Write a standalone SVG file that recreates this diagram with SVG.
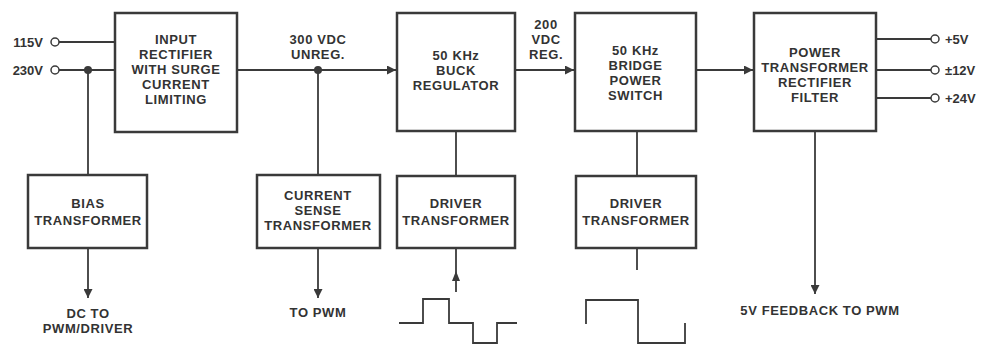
<svg xmlns="http://www.w3.org/2000/svg" width="981" height="345" viewBox="0 0 981 345">
<defs>
<marker id="ah" viewBox="0 0 10 10" refX="10" refY="5" markerWidth="10" markerHeight="9" markerUnits="userSpaceOnUse" orient="auto">
<path d="M0,0 L10,5 L0,10 z" fill="#3a3a3a"/>
</marker>
</defs>
<style>
.box{fill:none;stroke:#3a3a3a;stroke-width:2.5}
.ln{fill:none;stroke:#3a3a3a;stroke-width:1.8}
.t{font-family:"Liberation Sans",Arial,sans-serif;font-weight:bold;font-size:13px;letter-spacing:0.6px;fill:#333;text-anchor:middle}
.l{font-family:"Liberation Sans",Arial,sans-serif;font-weight:bold;font-size:13px;fill:#333}
.term{fill:#fff;stroke:#3a3a3a;stroke-width:1.5}
.dot{fill:#3a3a3a}
</style>
<rect width="981" height="345" fill="#fff"/>

<g id="connectors">
<line class="ln" x1="59" y1="42" x2="115" y2="42"/>
<line class="ln" x1="59" y1="70" x2="115" y2="70"/>
<line class="ln" x1="88" y1="70" x2="88" y2="176"/>
<line class="ln" x1="237" y1="70" x2="396" y2="70" marker-end="url(#ah)"/>
<line class="ln" x1="318" y1="70" x2="318" y2="176"/>
<line class="ln" x1="515" y1="70" x2="574" y2="70" marker-end="url(#ah)"/>
<line class="ln" x1="696" y1="70" x2="753" y2="70" marker-end="url(#ah)"/>
<line class="ln" x1="876" y1="39" x2="931" y2="39"/>
<line class="ln" x1="876" y1="70" x2="931" y2="70"/>
<line class="ln" x1="876" y1="98" x2="931" y2="98"/>
<line class="ln" x1="815" y1="131" x2="815" y2="294" marker-end="url(#ah)"/>
<line class="ln" x1="88" y1="248" x2="88" y2="298" marker-end="url(#ah)"/>
<line class="ln" x1="318" y1="248" x2="318" y2="298" marker-end="url(#ah)"/>
<line class="ln" x1="456" y1="131" x2="456" y2="176"/>
<line class="ln" x1="637" y1="131" x2="637" y2="176"/>
<line class="ln" x1="456" y1="292" x2="456" y2="248"/>
<path d="M456,271 L452,281 L460,281 z" fill="#3a3a3a"/>
<line class="ln" x1="637" y1="248" x2="637" y2="270"/>
<circle class="dot" cx="88" cy="70" r="4"/>
<circle class="dot" cx="318" cy="70" r="4"/>
<circle class="term" cx="55" cy="42" r="4"/>
<circle class="term" cx="55" cy="70" r="4"/>
<circle class="term" cx="935" cy="39" r="4"/>
<circle class="term" cx="935" cy="70" r="4"/>
<circle class="term" cx="935" cy="98" r="4"/>
</g>

<g id="labels">
<text class="l" x="43" y="47" text-anchor="end">115V</text>
<text class="l" x="43" y="75" text-anchor="end">230V</text>
<text class="t" x="318" y="44">300 VDC</text>
<text class="t" x="318" y="59">UNREG.</text>
<text class="t" x="546" y="29">200</text>
<text class="t" x="546" y="44">VDC</text>
<text class="t" x="546" y="59">REG.</text>
<text class="l" x="945" y="44">+5V</text>
<text class="l" x="945" y="75">±12V</text>
<text class="l" x="945" y="103">+24V</text>
<text class="t" x="88" y="318">DC TO</text>
<text class="t" x="88" y="333">PWM/DRIVER</text>
<text class="t" x="318" y="317">TO PWM</text>
<text class="t" x="820" y="315">5V FEEDBACK TO PWM</text>
</g>

<g id="input-rectifier">
<rect class="box" x="115" y="13" width="122" height="119"/>
<text class="t" x="176" y="44">INPUT</text>
<text class="t" x="176" y="59">RECTIFIER</text>
<text class="t" x="176" y="74">WITH SURGE</text>
<text class="t" x="176" y="89">CURRENT</text>
<text class="t" x="176" y="104">LIMITING</text>
</g>

<g id="buck-regulator">
<rect class="box" x="397" y="13" width="118" height="118"/>
<text class="t" x="456" y="60">50 KHz</text>
<text class="t" x="456" y="75">BUCK</text>
<text class="t" x="456" y="90">REGULATOR</text>
</g>

<g id="bridge-switch">
<rect class="box" x="575" y="13" width="121" height="118"/>
<text class="t" x="635.5" y="55">50 KHz</text>
<text class="t" x="635.5" y="70">BRIDGE</text>
<text class="t" x="635.5" y="85">POWER</text>
<text class="t" x="635.5" y="100">SWITCH</text>
</g>

<g id="power-transformer">
<rect class="box" x="754" y="13" width="122" height="118"/>
<text class="t" x="815" y="57">POWER</text>
<text class="t" x="815" y="72">TRANSFORMER</text>
<text class="t" x="815" y="87">RECTIFIER</text>
<text class="t" x="815" y="102">FILTER</text>
</g>

<g id="bias-transformer">
<rect class="box" x="28" y="175" width="119" height="73"/>
<text class="t" x="88" y="208">BIAS</text>
<text class="t" x="88" y="225">TRANSFORMER</text>
</g>

<g id="current-sense">
<rect class="box" x="257" y="175" width="123" height="73"/>
<text class="t" x="318" y="200">CURRENT</text>
<text class="t" x="318" y="215">SENSE</text>
<text class="t" x="318" y="230">TRANSFORMER</text>
</g>

<g id="driver-1">
<rect class="box" x="397" y="176" width="118" height="72"/>
<text class="t" x="456" y="208">DRIVER</text>
<text class="t" x="456" y="225">TRANSFORMER</text>
</g>

<g id="driver-2">
<rect class="box" x="576" y="176" width="120" height="72"/>
<text class="t" x="636" y="208">DRIVER</text>
<text class="t" x="636" y="225">TRANSFORMER</text>
</g>

<g id="waveforms">
<path class="ln" d="M399,323 H423 V299 H449 V323 H473 V343 H497 V323 H517"/>
<path class="ln" d="M586,324 V300 H638 V343 H685 V323"/>
</g>
</svg>
